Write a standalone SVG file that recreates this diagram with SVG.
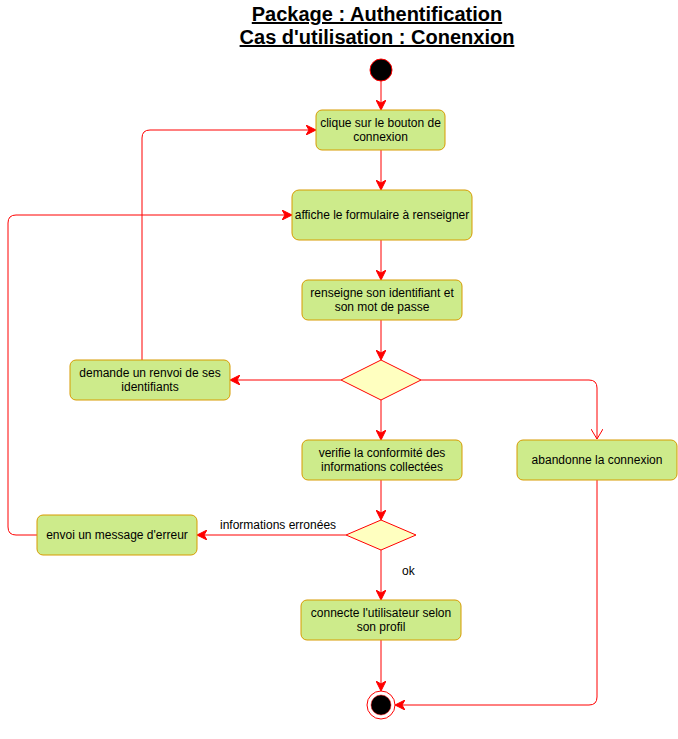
<svg xmlns="http://www.w3.org/2000/svg" width="678" height="739" viewBox="0 0 678 739">
<defs>
<style>
.box{fill:#cdeb8b;stroke:#d79b00;stroke-width:1}
.dia{fill:#ffffc0;stroke:#ff0000;stroke-width:1}
.t{font-family:"Liberation Sans",Arial,sans-serif;font-size:12px;fill:#000;text-anchor:middle}
.lbl{font-family:"Liberation Sans",Arial,sans-serif;font-size:12px;fill:#000}
.title{font-family:"Liberation Sans",Arial,sans-serif;font-size:20px;font-weight:bold;fill:#000;text-anchor:middle;text-decoration:underline}
.e{fill:none;stroke:#ff0000;stroke-width:1}
</style>
<marker id="arr" viewBox="0 0 10 10" refX="9" refY="5" markerWidth="10" markerHeight="10" markerUnits="userSpaceOnUse" orient="auto">
<path d="M0,0 L10,5 L0,10 L3,5 Z" fill="#ff0000" stroke="#ff0000"/>
</marker>
<marker id="open" viewBox="0 0 10 12" refX="10" refY="6" markerWidth="10" markerHeight="12" markerUnits="userSpaceOnUse" orient="auto">
<path d="M0,0 L10,6 L0,12" fill="none" stroke="#ff0000"/>
</marker>
</defs>
<rect width="678" height="739" fill="#ffffff"/>
<g id="title">
<text class="title" x="377" y="21">Package : Authentification</text>
<text class="title" x="377" y="44">Cas d'utilisation : Conenxion</text>
</g>
<g id="edges">
<path class="e" d="M381,81 V109" marker-end="url(#arr)"/>
<path class="e" d="M381,150 V189" marker-end="url(#arr)"/>
<path class="e" d="M381,240 V279" marker-end="url(#arr)"/>
<path class="e" d="M381,320 V359" marker-end="url(#arr)"/>
<path class="e" d="M341,380 H231" marker-end="url(#arr)"/>
<path class="e" d="M381,400 V439" marker-end="url(#arr)"/>
<path class="e" d="M421,380 H589 Q597,380 597,388 V439" marker-end="url(#open)"/>
<path class="e" d="M142,360 V138 Q142,130 150,130 H315" marker-end="url(#arr)"/>
<path class="e" d="M381,480 V519" marker-end="url(#arr)"/>
<path class="e" d="M346,535 H198" marker-end="url(#arr)"/>
<path class="e" d="M37,535 H16 Q8,535 8,527 V223 Q8,215 16,215 H291" marker-end="url(#arr)"/>
<path class="e" d="M381,550 V599" marker-end="url(#arr)"/>
<path class="e" d="M381,640 V690" marker-end="url(#arr)"/>
<path class="e" d="M597,480 V697 Q597,705 589,705 H396" marker-end="url(#arr)"/>
<text class="lbl" x="220" y="529">informations erronées</text>
<text class="lbl" x="402" y="575">ok</text>
</g>
<g id="start">
<circle cx="381" cy="70" r="11" fill="#000" stroke="#ff0000"/>
</g>
<g id="n1">
<rect class="box" x="316" y="110" width="129" height="40" rx="6"/>
<text class="t" x="380.5" y="127">clique sur le bouton de</text>
<text class="t" x="380.5" y="141">connexion</text>
</g>
<g id="n2">
<rect class="box" x="292" y="190" width="180" height="50" rx="7"/>
<text class="t" x="382" y="219">affiche le formulaire à renseigner</text>
</g>
<g id="n3">
<rect class="box" x="302" y="280" width="160" height="40" rx="6"/>
<text class="t" x="382" y="297">renseigne son identifiant et</text>
<text class="t" x="382" y="311">son mot de passe</text>
</g>
<g id="d1">
<polygon class="dia" points="381,360 421,380 381,400 341,380"/>
</g>
<g id="n4">
<rect class="box" x="70" y="360" width="160" height="40" rx="6"/>
<text class="t" x="150" y="377">demande un renvoi de ses</text>
<text class="t" x="150" y="391">identifiants</text>
</g>
<g id="n5">
<rect class="box" x="302" y="440" width="160" height="40" rx="6"/>
<text class="t" x="382" y="457">verifie la conformité des</text>
<text class="t" x="382" y="471">informations collectées</text>
</g>
<g id="n6">
<rect class="box" x="517" y="440" width="160" height="40" rx="6"/>
<text class="t" x="597" y="464">abandonne la connexion</text>
</g>
<g id="d2">
<polygon class="dia" points="381,520 416,535 381,550 346,535"/>
</g>
<g id="n7">
<rect class="box" x="37" y="515" width="160" height="40" rx="6"/>
<text class="t" x="117" y="539">envoi un message d'erreur</text>
</g>
<g id="n8">
<rect class="box" x="301" y="600" width="160" height="40" rx="6"/>
<text class="t" x="381" y="617">connecte l'utilisateur selon</text>
<text class="t" x="381" y="631">son profil</text>
</g>
<g id="end">
<circle cx="381" cy="705" r="14" fill="#fff" stroke="#ff0000"/>
<circle cx="381" cy="705" r="10" fill="#000" stroke="#ff0000" stroke-width="0.5"/>
</g>
</svg>
